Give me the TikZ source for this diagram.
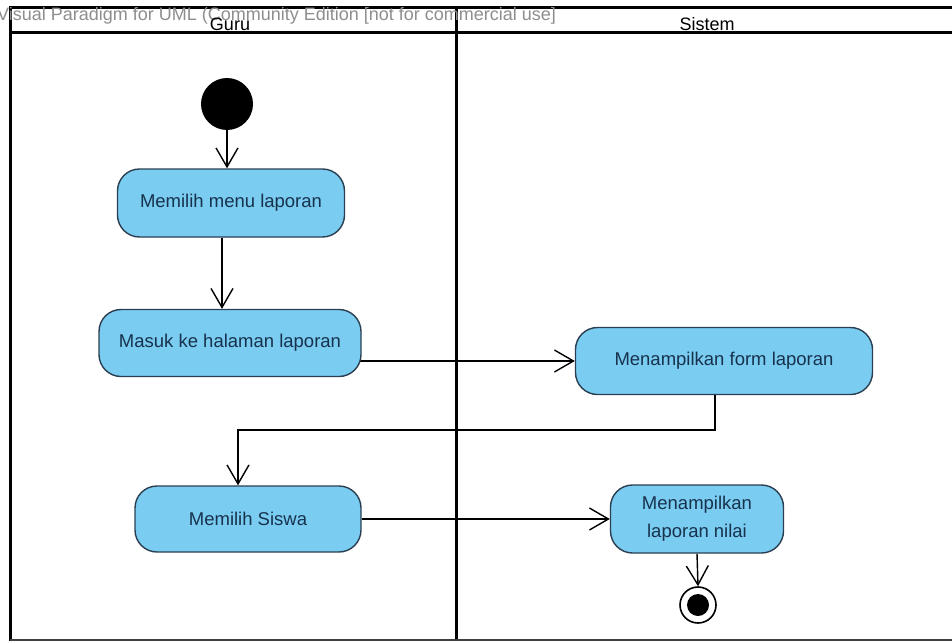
\documentclass[tikz,border=0pt]{standalone}
\usepackage{fontspec}
\setmainfont{Liberation Sans}
\usetikzlibrary{arrows.meta,backgrounds}

\definecolor{actfill}{HTML}{7ACCF1}
\definecolor{actline}{HTML}{2B3F52}
\definecolor{acttext}{HTML}{17324D}
\definecolor{markgray}{HTML}{8E8E8E}

\tikzset{
  action/.style={draw=actline, line width=1.4pt, fill=actfill, rounded corners=22pt,
    text=acttext, font=\fontsize{18.5}{28}\selectfont, align=center, inner sep=0pt},
  flow/.style={draw=black, line width=1.4pt,
    -{Straight Barb[length=19pt,width=22pt,line width=1.4pt]}},
  lane/.style={draw=black, line width=3pt},
  headtext/.style={font=\fontsize{18}{18}\selectfont, inner sep=0pt},
}

\begin{document}
\begin{tikzpicture}[x=1pt,y=-1pt]
\useasboundingbox (0,0) rectangle (952,642);

% swimlane frame
\draw[lane] (952,8) -- (10,8) -- (10,641);
\draw[lane] (10,33) -- (952,33);
\draw[lane] (456,8) -- (456,641);
\draw[draw=black!75, line width=2.5pt] (10,640) -- (952,640);

% lane headers and edition note
\node[anchor=west, text=markgray, headtext] (note) at (-3,16)
  {Visual Paradigm for UML (Community Edition [not for commercial use]};
\node[headtext] (guru) at (230,24) {Guru};
\node[headtext] (sistem) at (707,24) {Sistem};

% activity nodes
\node[circle, fill=black, minimum size=52pt, inner sep=0pt] (start) at (227,104) {};
\node[action, minimum width=227pt, minimum height=68pt] (menu) at (231,203) {Memilih menu laporan};
\node[action, minimum width=262pt, minimum height=67pt] (masuk) at (230,343) {Masuk ke halaman laporan};
\node[action, minimum width=297pt, minimum height=67pt] (form) at (724,361) {Menampilkan form laporan};
\node[action, minimum width=226pt, minimum height=66pt] (siswa) at (248,519) {Memilih Siswa};
\node[action, minimum width=173pt, minimum height=68pt] (nilai) at (697,519) {Menampilkan\\laporan nilai};
\node[circle, draw=black, line width=1.6pt, fill=white, minimum size=36pt, inner sep=0pt] (final) at (698,605) {};
\node[circle, fill=black, minimum size=22pt, inner sep=0pt] (finaldot) at (final) {};

% control flows, kept behind the action nodes
\begin{scope}[on background layer]
  \fill[white] (0,0) rectangle (952,642);
  \draw[flow] (start) -- (start |- menu.north);
  \draw[flow] ([xshift=-9pt]menu.south) -- ([xshift=-9pt]menu.south |- masuk.north);
  \draw[flow] (masuk.center |- form.west) -- (form.west);
  \draw[flow] ([xshift=-9pt]form.south) |- (238,430) -- (238,0 |- siswa.north);
  \draw[flow] (siswa.east) -- (nilai.west);
  \draw[flow] (nilai.south) -- (final.north);
\end{scope}
\end{tikzpicture}
\end{document}
